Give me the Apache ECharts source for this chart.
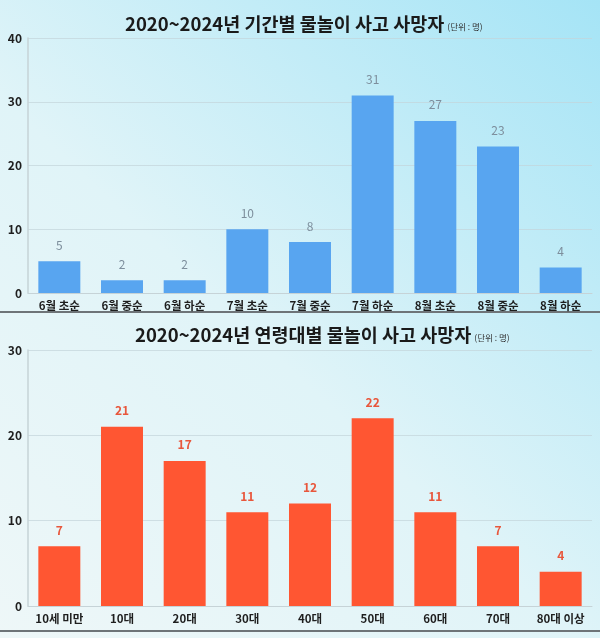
<!DOCTYPE html>
<html>
<head>
<meta charset="utf-8">
<script src="https://cdn.jsdelivr.net/npm/echarts@6/dist/echarts.min.js"></script>
<style>
html,body{margin:0;padding:0;}
#c{width:600px;height:638px;}
</style>
</head>
<body>
<div id="c"></div>
<script>
var periodCategories = ['6월 초순','6월 중순','6월 하순','7월 초순','7월 중순','7월 하순','8월 초순','8월 중순','8월 하순'];
var periodValues = [5, 2, 2, 10, 8, 31, 27, 23, 4];
var ageCategories = ['10세 미만','10대','20대','30대','40대','50대','60대','70대','80대 이상'];
var ageValues = [7, 21, 17, 11, 12, 22, 11, 7, 4];
var topTitle = '2020~2024년 기간별 물놀이 사고 사망자';
var bottomTitle = '2020~2024년 연령대별 물놀이 사고 사망자';
var unitText = '(단위 : 명)';

var FONT = '"Noto Sans CJK KR", "Noto Sans", sans-serif';
var chart = echarts.init(document.getElementById('c'), null, {renderer: 'canvas'});

function titleRich() {
  return {
    a: {fontSize: 18.5, fontWeight: 'bold', color: '#1a1a1a', fontFamily: FONT},
    b: {fontSize: 8.5, fontWeight: 'normal', color: '#333', fontFamily: FONT, padding: [5, 0, 0, 3]}
  };
}
function yAxisCfg(gi, max) {
  return {
    gridIndex: gi, type: 'value', min: 0, max: max, interval: 10,
    axisLine: {show: true, lineStyle: {color: '#c6d3d7', width: 1.5}},
    axisTick: {show: false},
    axisLabel: {color: '#1e1e1e', fontSize: 12, fontWeight: 'bold', fontFamily: FONT, margin: 6},
    splitLine: {lineStyle: {color: 'rgba(195,212,218,0.7)', width: 1}}
  };
}
function xAxisCfg(gi, cats) {
  return {
    gridIndex: gi, type: 'category', data: cats,
    axisLine: {show: true, lineStyle: {color: '#c6d3d7', width: 1}},
    axisTick: {show: false},
    axisLabel: {color: '#1e1e1e', fontSize: 11.5, fontWeight: 'bold', fontFamily: FONT, margin: 7, interval: 0}
  };
}

chart.setOption({
  animation: false,
  backgroundColor: {
    type: 'linear', x: 0, y: 1, x2: 1, y2: 0,
    colorStops: [
      {offset: 0, color: '#eef7f8'},
      {offset: 0.45, color: '#e0f4f8'},
      {offset: 1, color: '#a5e4f6'}
    ]
  },
  title: [
    {text: '{a|' + topTitle + '}{b|' + unitText + '}', left: 120, top: 10, textStyle: {rich: titleRich()}},
    {text: '{a|' + bottomTitle + '}{b|' + unitText + '}', left: 130, top: 321, textStyle: {rich: titleRich()}}
  ],
  grid: [
    {left: 28, top: 38, width: 564, height: 255},
    {left: 28, top: 350, width: 564, height: 256}
  ],
  xAxis: [xAxisCfg(0, periodCategories), xAxisCfg(1, ageCategories)],
  yAxis: [yAxisCfg(0, 40), yAxisCfg(1, 30)],
  series: [
    {
      type: 'bar', xAxisIndex: 0, yAxisIndex: 0, data: periodValues,
      barWidth: '67%',
      itemStyle: {color: '#58a5f0'},
      label: {show: true, position: 'top', distance: 10, color: '#7d8e9c', fontSize: 12, fontFamily: FONT}
    },
    {
      type: 'bar', xAxisIndex: 1, yAxisIndex: 1, data: ageValues,
      barWidth: '67%',
      itemStyle: {color: '#ff5632'},
      label: {show: true, position: 'top', distance: 10, color: '#e8573c', fontSize: 12, fontWeight: 'bold', fontFamily: FONT}
    }
  ],
  graphic: [
    {type: 'rect', left: 0, top: 311, shape: {width: 600, height: 2}, style: {fill: '#6e7478'}},
    {type: 'rect', left: 0, top: 630, shape: {width: 600, height: 2}, style: {fill: '#6e7478'}}
  ]
});
</script>
</body>
</html>
